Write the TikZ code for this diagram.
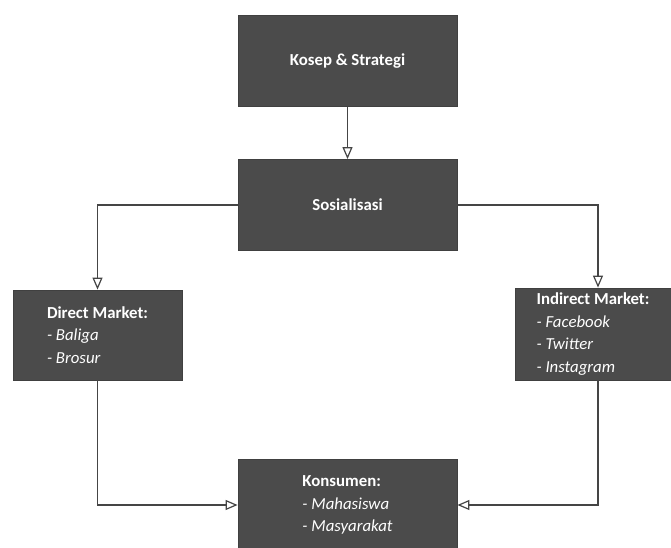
\documentclass[tikz,border=0pt]{standalone}
\usepackage{fontspec}
\setmainfont{Carlito}
\usetikzlibrary{arrows.meta}
\definecolor{boxfill}{HTML}{4B4B4B}
\definecolor{boxline}{HTML}{404040}
\definecolor{conn}{HTML}{454545}
\tikzset{
  box/.style={draw=boxline, fill=boxfill, line width=0.8pt, minimum width=219pt, minimum height=91pt, inner sep=0pt, text=white, align=left, font=\fontsize{16.8}{22.5}\selectfont},
  sidebox/.style={box, minimum width=169pt, minimum height=90pt},
  rsidebox/.style={box, minimum width=156pt, minimum height=92pt},
  link/.style={draw=conn, line width=1.2pt, -{Triangle[open, length=12pt, width=10pt]}},
}
\begin{document}
\begin{tikzpicture}[x=1pt, y=-1pt]
\useasboundingbox (0,0) rectangle (671,548);
\clip (0,0) rectangle (671,548);
\node[box] (ks) at (347.5,61) {\textbf{Kosep \& Strategi}};
\node[box] (sos) at (347.5,205) {\textbf{Sosialisasi}};
\node[sidebox] (dm) at (97.5,335) {\textbf{Direct Market:}\\ \textit{- Baliga}\\ \textit{- Brosur}};
\node[rsidebox] (im) at (593,334) {\textbf{Indirect Market:}\\ \textit{- Facebook}\\ \textit{- Twitter}\\ \textit{- Instagram}};
\node[box] (kon) at (347.5,505) {\textbf{Konsumen:}\\ \textit{- Mahasiswa}\\ \textit{- Masyarakat}};
\draw[link] (ks) -- (sos);
\draw[link] (sos.west) -| (dm.north);
\draw[link] (sos.east) -| ([xshift=5pt]im.north);
\draw[link] (dm.south) |- (kon.west);
\draw[link] ([xshift=5pt]im.south) |- (kon.east);
\end{tikzpicture}
\end{document}
